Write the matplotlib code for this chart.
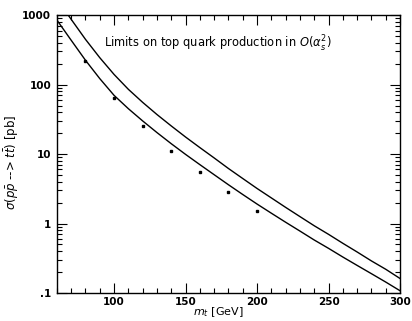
import matplotlib
matplotlib.use("Agg")
import matplotlib.pyplot as plt
from matplotlib.ticker import LogLocator, FixedLocator, MultipleLocator, NullFormatter

# top-quark mass grid [GeV]
mass = [60, 70, 80, 90, 100, 110, 120, 130, 140, 150, 160, 170, 180, 190,
        200, 210, 220, 230, 240, 250, 260, 270, 280, 290, 300]
# lower curve [pb]
sigma_low = [850, 435, 224, 122, 70, 45, 30, 20.4, 14.1, 9.9, 7.05, 5.05, 3.62,
             2.62, 1.91, 1.41, 1.045, 0.78, 0.58, 0.44, 0.33, 0.25, 0.19, 0.144, 0.108]
# upper curve [pb]
sigma_high = [1700, 870, 448, 244, 140, 85.5, 55.5, 37.1, 25.4, 17.6, 12.4, 8.8, 6.2,
              4.45, 3.2, 2.34, 1.71, 1.26, 0.93, 0.70, 0.52, 0.39, 0.29, 0.22, 0.162]
# data points
pt_mass = [80, 100, 120, 140, 160, 180, 200]
pt_sigma = [215, 65, 25, 11.1, 5.5, 2.81, 1.51]

ytick_vals = [0.1, 1, 10, 100, 1000]
ytick_labels = [".1", "1", "10", "100", "1000"]
xtick_vals = [100, 150, 200, 250, 300]
xtick_labels = ["100", "150", "200", "250", "300"]

fig = plt.figure(figsize=(4.12, 3.21), dpi=100)
ax = fig.add_axes([0.138, 0.087, 0.833, 0.866])

ax.plot(mass, sigma_low, color="black", lw=1.0)
ax.plot(mass, sigma_high, color="black", lw=1.0)
ax.plot(pt_mass, pt_sigma, linestyle="none", marker="s", ms=1.6, color="black")

ax.set_yscale("log")
ax.set_xlim(60, 300)
ax.set_ylim(0.1, 1000)

ax.yaxis.set_major_locator(FixedLocator(ytick_vals))
ax.set_yticklabels(ytick_labels)
ax.yaxis.set_minor_locator(LogLocator(base=10, subs=range(2, 10), numticks=20))
ax.yaxis.set_minor_formatter(NullFormatter())
ax.xaxis.set_major_locator(FixedLocator(xtick_vals))
ax.set_xticklabels(xtick_labels)
ax.xaxis.set_minor_locator(MultipleLocator(10))

ax.tick_params(which="both", direction="in", top=True, right=True, labelsize=7.5, width=0.8)
ax.tick_params(which="major", length=7, pad=4)
ax.tick_params(axis="x", which="major", pad=3)
ax.tick_params(which="minor", length=3.5)
for lab in ax.get_xticklabels() + ax.get_yticklabels():
    lab.set_fontweight("bold")
for s in ax.spines.values():
    s.set_linewidth(1.0)

ax.text(0.47, 0.895, r"Limits on top quark production in $O(\alpha_s^2)$",
        transform=ax.transAxes, ha="center", va="center", fontsize=8.3)

ax.set_xlabel(r"$m_t$ [GeV]", fontsize=8)
ax.xaxis.set_label_coords(0.47, -0.045)
ax.set_ylabel(r"$\sigma(p\bar{p}$ --> $t\bar{t})$ [pb]", fontsize=8.5)
ax.yaxis.set_label_coords(-0.105, 0.47)

fig.savefig("out.png", dpi=100)
